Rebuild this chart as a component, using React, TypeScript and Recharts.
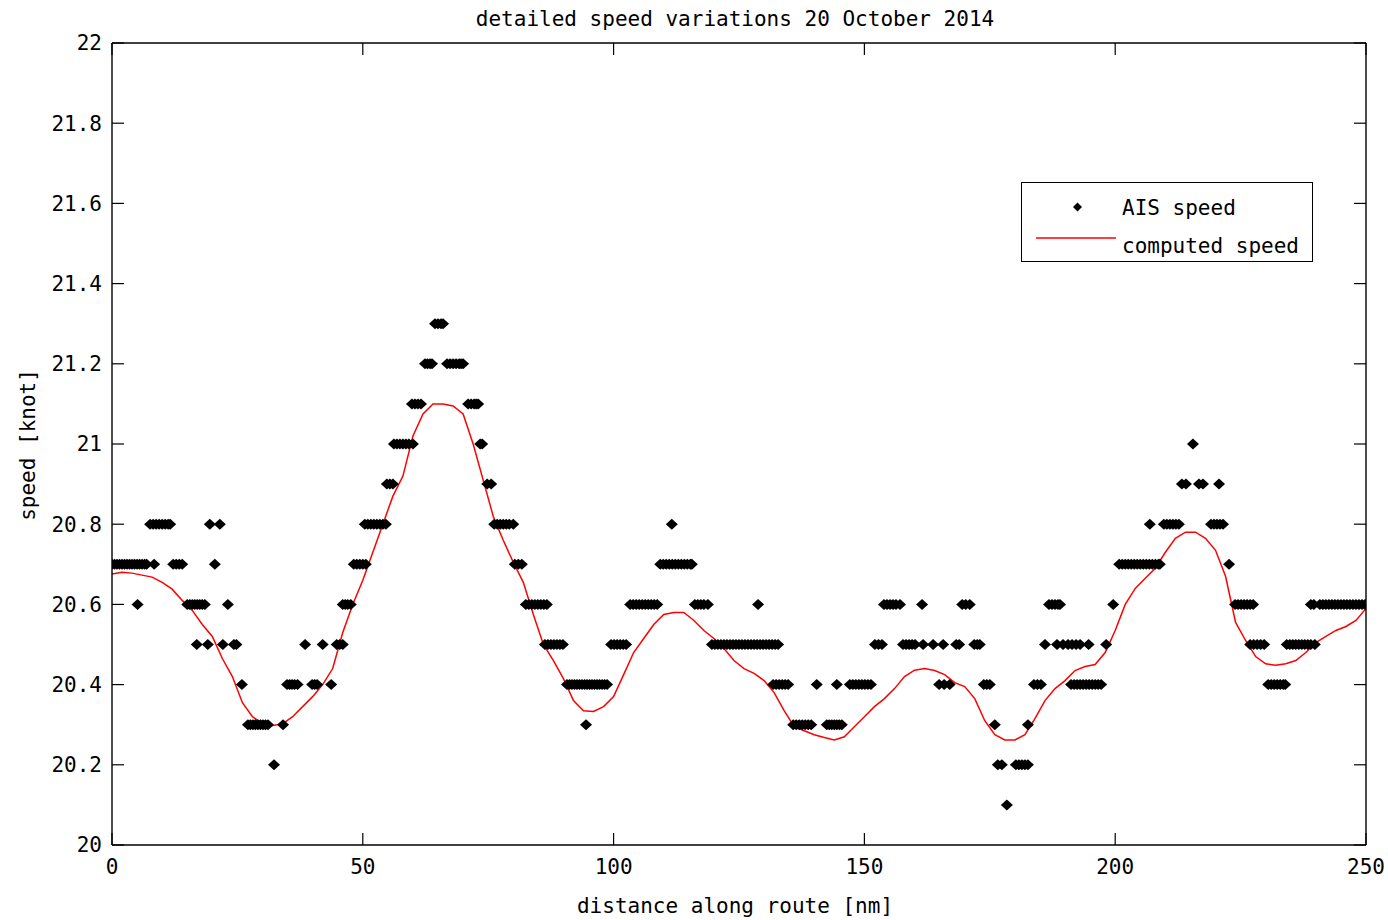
import { ComposedChart, Line, Scatter, XAxis, YAxis } from "recharts"

// AIS speed readings, grouped by reported speed [knot] -> distances along route [nm]
const ais201 = [178.4]
const ais202 = [32.3, 176.6, 177.4, 180.2, 180.8, 181.4, 182.0, 182.6]
const ais203 = [
  27.1, 27.6, 28.1, 28.6, 29.1, 29.6, 30.1, 30.6, 31.1, 34.1, 94.5, 135.8, 136.4, 137.0, 137.6,
  138.2, 138.8, 139.4, 142.5, 143.0, 143.5, 144.0, 144.5, 145.0, 145.5, 176.0, 182.6,
]
const ais204 = [
  25.9, 34.9, 35.4, 35.9, 36.4, 37.0, 39.9, 40.4, 40.9, 43.7, 90.7, 91.2, 91.7, 92.2, 92.7, 93.2,
  93.7, 94.2, 94.7, 95.2, 95.7, 96.2, 96.7, 97.2, 97.7, 98.2, 98.7, 131.8, 132.4, 133.0, 133.6,
  134.2, 134.8, 140.5, 144.5, 147.1, 147.7, 148.3, 148.9, 149.5, 150.1, 150.7, 151.3, 164.9, 165.9,
  167.0, 173.8, 174.4, 175.0, 183.8, 184.5, 185.2, 191.2, 191.8, 192.4, 193.0, 193.6, 194.2, 194.8,
  195.4, 196.0, 196.6, 197.2, 230.5, 231.1, 231.7, 232.3, 232.9, 233.5, 233.9,
]
const ais205 = [
  16.9, 19.1, 22.1, 24.3, 24.8, 38.5, 42.0, 44.8, 45.4, 46.0, 86.3, 86.9, 87.5, 88.1, 88.7, 89.3,
  89.9, 99.5, 100.1, 100.7, 101.3, 101.9, 102.5, 119.6, 120.2, 120.8, 121.4, 122.0, 122.6, 123.2,
  123.8, 124.4, 125.0, 125.6, 126.2, 126.8, 127.4, 128.0, 128.6, 129.2, 129.8, 130.4, 131.0, 131.6,
  132.2, 132.8, 152.1, 152.8, 153.5, 157.7, 158.3, 158.9, 159.5, 160.1, 161.7, 163.7, 165.7, 168.3,
  168.9, 171.9, 172.5, 173.0, 186.0, 188.4, 189.6, 190.6, 191.4, 192.2, 193.0, 194.7, 198.2, 226.9,
  227.6, 228.3, 229.0, 229.7, 234.2, 234.8, 235.4, 236.0, 236.6, 237.2, 237.8, 238.4, 239.0, 239.8,
]
const ais206 = [
  5.1, 15.0, 15.5, 16.0, 16.5, 17.0, 17.5, 18.0, 18.5, 23.1, 46.0, 46.5, 47.0, 47.6, 82.5, 83.1,
  83.7, 84.3, 84.9, 85.5, 86.1, 86.7, 103.3, 103.9, 104.5, 105.1, 105.7, 106.3, 106.9, 107.5, 108.1,
  108.7, 116.2, 116.8, 117.4, 118.0, 118.8, 128.8, 153.9, 154.5, 155.1, 155.7, 156.3, 157.1, 161.5,
  169.5, 170.2, 171.0, 186.8, 187.4, 188.0, 188.6, 189.0, 199.6, 223.9, 224.5, 225.1, 225.7, 226.3,
  226.9, 227.5, 239.0, 239.6, 240.8, 241.4, 242.0, 242.6, 243.2, 243.8, 244.4, 245.0, 245.6, 246.2,
  246.8, 247.4, 248.0, 248.6, 249.2, 249.8,
]
const ais207 = [
  0.0, 0.5, 1.0, 1.5, 2.0, 2.5, 3.0, 3.5, 4.0, 4.5, 5.0, 5.5, 6.0, 6.5, 6.9, 8.4, 12.2, 12.8, 13.4,
  14.0, 20.5, 48.2, 48.8, 49.4, 50.0, 50.6, 80.3, 81.0, 81.7, 109.3, 109.9, 110.5, 111.1, 111.7,
  112.3, 112.9, 113.5, 114.1, 114.7, 115.3, 115.6, 200.8, 201.4, 202.0, 202.6, 203.2, 203.8, 204.4,
  205.0, 205.6, 206.2, 206.8, 207.4, 208.0, 208.6, 208.9, 222.7,
]
const ais208 = [
  7.6, 8.2, 8.8, 9.4, 10.0, 10.6, 11.2, 11.6, 19.5, 21.5, 50.4, 51.0, 51.6, 52.2, 52.8, 53.4, 54.0,
  54.6, 76.2, 76.8, 77.4, 78.0, 78.6, 79.2, 80.0, 111.6, 206.9, 209.7, 210.3, 210.9, 211.5, 212.1,
  212.7, 219.1, 219.7, 220.3, 220.9, 221.5,
]
const ais209 = [54.8, 55.4, 56.0, 74.8, 75.6, 213.3, 214.1, 216.7, 217.5, 220.7]
const ais210 = [56.2, 56.8, 57.4, 58.0, 58.6, 59.2, 60.0, 73.4, 73.8, 215.5]
const ais211 = [59.8, 60.4, 61.0, 61.6, 71.0, 71.6, 72.2, 72.6, 73.0]
const ais212 = [62.4, 62.9, 63.4, 63.8, 66.8, 67.4, 68.0, 68.6, 69.2, 69.6, 70.0]
const ais213 = [64.4, 65.0, 65.6, 66.0]

const aisLevels: [number, number[]][] = [
  [20.1, ais201],
  [20.2, ais202],
  [20.3, ais203],
  [20.4, ais204],
  [20.5, ais205],
  [20.6, ais206],
  [20.7, ais207],
  [20.8, ais208],
  [20.9, ais209],
  [21.0, ais210],
  [21.1, ais211],
  [21.2, ais212],
  [21.3, ais213],
]

// computed speed, read every 2 nm
const computedDistance = [
  0, 2, 4, 6, 8, 10, 12, 14, 16, 18, 20, 22, 24, 26, 28, 30, 32, 34, 36, 38, 40, 42, 44, 46, 48, 50,
  52, 54, 56, 58, 60, 62, 64, 66, 68, 70, 72, 74, 76, 78, 80, 82, 84, 86, 88, 90, 92, 94, 96, 98,
  100, 102, 104, 106, 108, 110, 112, 114, 116, 118, 120, 122, 124, 126, 128, 130, 132, 134, 136,
  138, 140, 142, 144, 146, 148, 150, 152, 154, 156, 158, 160, 162, 164, 166, 168, 170, 172, 174,
  176, 178, 180, 182, 184, 186, 188, 190, 192, 194, 196, 198, 200, 202, 204, 206, 208, 210, 212,
  214, 216, 218, 220, 222, 224, 226, 228, 230, 232, 234, 236, 238, 240, 242, 244, 246, 248, 250,
]
const computedSpeed = [
  20.676, 20.68, 20.678, 20.673, 20.668, 20.655, 20.638, 20.61, 20.585, 20.55, 20.52, 20.465, 20.42,
  20.355, 20.32, 20.302, 20.298, 20.302, 20.32, 20.345, 20.37, 20.4, 20.44, 20.53, 20.6, 20.66,
  20.73, 20.8, 20.87, 20.92, 21.02, 21.075, 21.1, 21.1, 21.095, 21.075, 21.0, 20.91, 20.82, 20.76,
  20.705, 20.655, 20.575, 20.5, 20.46, 20.415, 20.36, 20.335, 20.333, 20.345, 20.37, 20.425, 20.48,
  20.515, 20.55, 20.575, 20.58, 20.58, 20.56, 20.535, 20.515, 20.49, 20.46, 20.44, 20.428, 20.41,
  20.38, 20.335, 20.295, 20.285, 20.275, 20.268, 20.262, 20.27, 20.295, 20.32, 20.345, 20.365,
  20.39, 20.42, 20.436, 20.44, 20.435, 20.425, 20.405, 20.395, 20.365, 20.31, 20.275, 20.262,
  20.262, 20.275, 20.315, 20.36, 20.39, 20.41, 20.435, 20.445, 20.45, 20.48, 20.535, 20.6, 20.64,
  20.665, 20.69, 20.73, 20.765, 20.78, 20.78, 20.765, 20.735, 20.67, 20.555, 20.51, 20.47, 20.452,
  20.448, 20.452, 20.46, 20.48, 20.505, 20.52, 20.535, 20.545, 20.56, 20.59,
]

const xTicks = [0, 50, 100, 150, 200, 250]
const yTicks = [20, 20.2, 20.4, 20.6, 20.8, 21, 21.2, 21.4, 21.6, 21.8, 22]

const aisData = aisLevels.flatMap(([speed, distances]) =>
  distances.map((distance) => ({ distance, speed }))
)
const computedData = computedDistance.map((distance, i) => ({
  distance,
  speed: computedSpeed[i],
}))

const FONT = "'DejaVu Sans Mono', 'Liberation Mono', monospace"
const tickStyle = { fill: "#000", fontSize: 21, fontFamily: FONT }
const axisLine = { stroke: "#000", strokeWidth: 1.4 }
const tickLine = { stroke: "#000", strokeWidth: 1.2 }

function AisMarker({ cx, cy }: { cx?: number; cy?: number }) {
  if (cx == null || cy == null) return null
  return (
    <polygon
      points={`${cx - 6},${cy} ${cx},${cy - 5.5} ${cx + 6},${cy} ${cx},${cy + 5.5}`}
      fill="#000"
    />
  )
}

function formatY(v: number) {
  return Number.isInteger(v) ? String(v) : v.toFixed(1)
}

export default function App() {
  return (
    <div
      style={{
        position: "absolute",
        left: 0,
        top: 0,
        width: 1388,
        height: 920,
        background: "#fff",
        fontFamily: FONT,
        color: "#000",
      }}
    >
      <ComposedChart
        width={1388}
        height={920}
        margin={{ top: 42, right: 21, bottom: 45, left: 52 }}
      >
        <XAxis
          dataKey="distance"
          type="number"
          domain={[0, 250]}
          ticks={xTicks}
          tick={tickStyle}
          tickSize={-12}
          tickMargin={26}
          axisLine={axisLine}
          tickLine={tickLine}
          height={30}
          allowDataOverflow
        />
        <XAxis
          xAxisId="top"
          orientation="top"
          dataKey="distance"
          type="number"
          domain={[0, 250]}
          ticks={xTicks}
          tickFormatter={() => ""}
          tickSize={-12}
          axisLine={axisLine}
          tickLine={tickLine}
          height={1}
          allowDataOverflow
        />
        <YAxis
          dataKey="speed"
          type="number"
          domain={[20, 22]}
          ticks={yTicks}
          tickFormatter={formatY}
          tick={tickStyle}
          tickSize={-12}
          tickMargin={22}
          axisLine={axisLine}
          tickLine={tickLine}
          width={60}
          allowDataOverflow
        />
        <YAxis
          yAxisId="right"
          orientation="right"
          dataKey="speed"
          type="number"
          domain={[20, 22]}
          ticks={yTicks}
          tickFormatter={() => ""}
          tickSize={-12}
          axisLine={axisLine}
          tickLine={tickLine}
          width={1}
          allowDataOverflow
        />
        {/* invisible copy bound to the top/right axes so the box closes */}
        <Line
          xAxisId="top"
          yAxisId="right"
          data={computedData}
          dataKey="speed"
          stroke="none"
          dot={false}
          activeDot={false}
          legendType="none"
          isAnimationActive={false}
        />
        <Scatter
          data={aisData}
          dataKey="speed"
          shape={<AisMarker />}
          isAnimationActive={false}
        />
        <Line
          data={computedData}
          dataKey="speed"
          type="linear"
          stroke="#ff0000"
          strokeWidth={1.5}
          dot={false}
          activeDot={false}
          isAnimationActive={false}
        />
      </ComposedChart>

      <div
        style={{
          position: "absolute",
          top: 7,
          left: 0,
          width: 1470,
          textAlign: "center",
          fontSize: 21,
          whiteSpace: "nowrap",
        }}
      >
        detailed speed variations 20 October 2014
      </div>
      <div
        style={{
          position: "absolute",
          top: 894,
          left: 0,
          width: 1470,
          textAlign: "center",
          fontSize: 21,
          whiteSpace: "nowrap",
        }}
      >
        distance along route [nm]
      </div>
      <div
        style={{
          position: "absolute",
          left: 28,
          top: 445,
          transform: "translate(-50%, -50%) rotate(-90deg)",
          fontSize: 21,
          whiteSpace: "nowrap",
        }}
      >
        speed [knot]
      </div>

      <div
        style={{
          position: "absolute",
          left: 1021,
          top: 182,
          width: 290,
          height: 78,
          border: "1.5px solid #000",
          background: "#fff",
          fontSize: 21,
        }}
      >
        <svg width={100} height={78} style={{ position: "absolute", left: 0, top: 0 }}>
          <polygon points="51,24 55.5,19.5 60,24 55.5,28.5" fill="#000" />
          <line x1={14} x2={94} y1={55} y2={55} stroke="#ff0000" strokeWidth={1.5} />
        </svg>
        <div style={{ position: "absolute", left: 100, top: 13, whiteSpace: "nowrap" }}>
          AIS speed
        </div>
        <div style={{ position: "absolute", left: 100, top: 51, whiteSpace: "nowrap" }}>
          computed speed
        </div>
      </div>
    </div>
  )
}
